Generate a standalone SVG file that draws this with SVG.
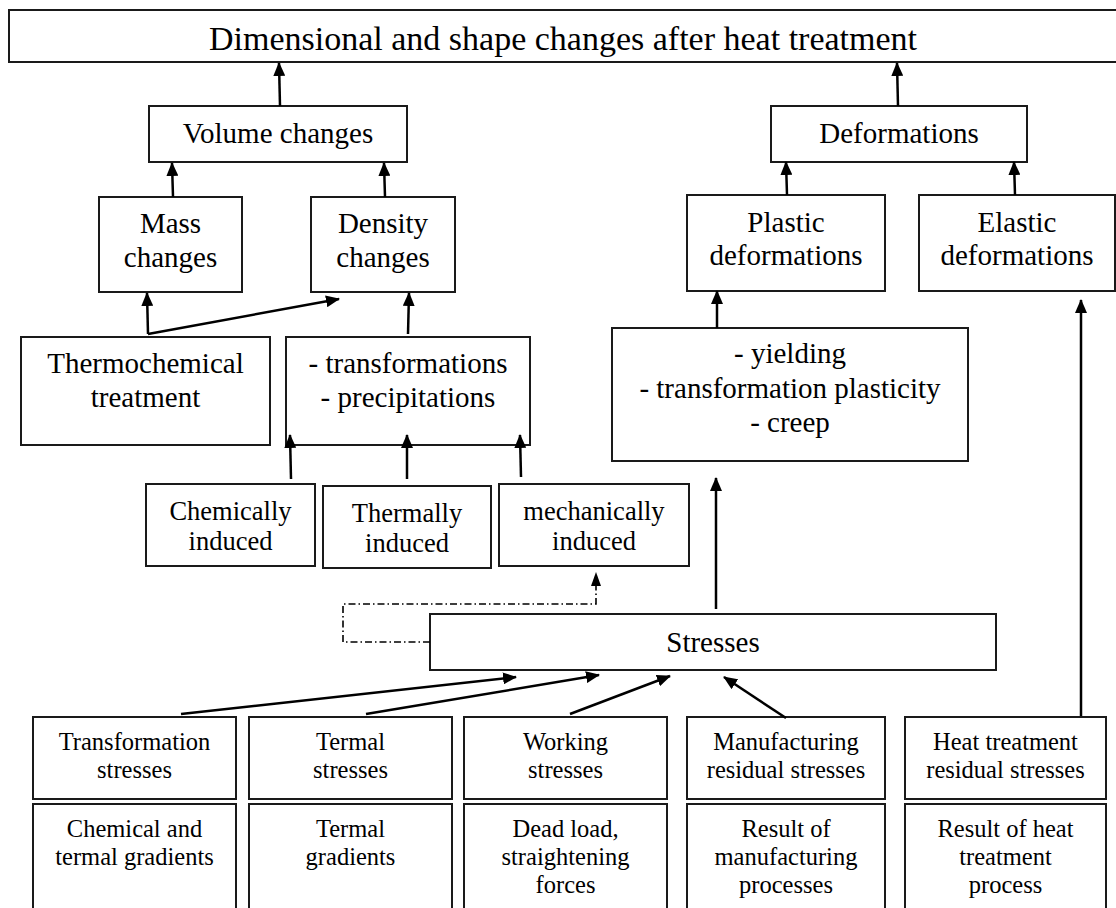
<svg xmlns="http://www.w3.org/2000/svg" width="1116" height="908" viewBox="0 0 1116 908" font-family="'Liberation Serif', 'Times New Roman', Tinos, 'DejaVu Serif', serif">
<style>
.box{fill:#fff;stroke:#1a1a1a;stroke-width:2}
text{font-family:'Liberation Serif','Times New Roman',Tinos,'DejaVu Serif',serif;fill:#000;text-anchor:middle}
.f34{font-size:34px}
.f29{font-size:29px}
.f26{font-size:26.5px}
.f24{font-size:24.5px}
.c{fill:none;stroke:#000;stroke-width:2.5}
.dd{fill:none;stroke:#000;stroke-width:1.6;stroke-dasharray:7 3 1.5 3}
</style>
<defs>
<marker id="ah" markerUnits="userSpaceOnUse" markerWidth="14" markerHeight="12" viewBox="0 0 14 12" refX="13" refY="6" orient="auto">
<path d="M0,0 L14,6 L0,12 Z" fill="#000"/>
</marker>
</defs>
<rect width="1116" height="908" fill="#fff"/>
<g id="title"><rect class="box" x="9" y="10" width="1120" height="52"/><text class="f34" x="563" y="50">Dimensional and shape changes after heat treatment</text></g>
<g id="volume"><rect class="box" x="149" y="106" width="258" height="56"/><text class="f29" x="278" y="143">Volume changes</text></g>
<g id="deformations"><rect class="box" x="771" y="106" width="256" height="56"/><text class="f29" x="899" y="143">Deformations</text></g>
<g id="mass"><rect class="box" x="99" y="197" width="143" height="95"/><text class="f29" x="170.5" y="233">Mass</text><text class="f29" x="170.5" y="267">changes</text></g>
<g id="density"><rect class="box" x="311" y="197" width="144" height="95"/><text class="f29" x="383" y="233">Density</text><text class="f29" x="383" y="267">changes</text></g>
<g id="plastic"><rect class="box" x="687" y="195" width="198" height="96"/><text class="f29" x="786" y="232">Plastic</text><text class="f29" x="786" y="265">deformations</text></g>
<g id="elastic"><rect class="box" x="919" y="195" width="196" height="96"/><text class="f29" x="1017" y="232">Elastic</text><text class="f29" x="1017" y="265">deformations</text></g>
<g id="thermochemical"><rect class="box" x="21" y="337" width="249" height="108"/><text class="f29" x="145.5" y="373">Thermochemical</text><text class="f29" x="145.5" y="407">treatment</text></g>
<g id="transformations"><rect class="box" x="286" y="337" width="244" height="108"/><text class="f29" x="408" y="373">- transformations</text><text class="f29" x="408" y="407">- precipitations</text></g>
<g id="yielding"><rect class="box" x="612" y="328" width="356" height="133"/><text class="f29" x="790" y="363">- yielding</text><text class="f29" x="790" y="398">- transformation plasticity</text><text class="f29" x="790" y="432">- creep</text></g>
<g id="chemically"><rect class="box" x="146" y="484" width="169" height="82"/><text class="f26" x="230.5" y="520">Chemically</text><text class="f26" x="230.5" y="550">induced</text></g>
<g id="thermally"><rect class="box" x="323" y="486" width="168" height="82"/><text class="f26" x="407" y="522">Thermally</text><text class="f26" x="407" y="552">induced</text></g>
<g id="mechanically"><rect class="box" x="499" y="484" width="190" height="82"/><text class="f26" x="594" y="520">mechanically</text><text class="f26" x="594" y="550">induced</text></g>
<g id="stresses"><rect class="box" x="430" y="614" width="566" height="56"/><text class="f29" x="713" y="652">Stresses</text></g>
<g id="s1"><rect class="box" x="33" y="717" width="203" height="82"/><text class="f24" x="134.5" y="750">Transformation</text><text class="f24" x="134.5" y="778">stresses</text></g>
<g id="s2"><rect class="box" x="249" y="717" width="203" height="82"/><text class="f24" x="350.5" y="750">Termal</text><text class="f24" x="350.5" y="778">stresses</text></g>
<g id="s3"><rect class="box" x="464" y="717" width="203" height="82"/><text class="f24" x="565.5" y="750">Working</text><text class="f24" x="565.5" y="778">stresses</text></g>
<g id="s4"><rect class="box" x="687" y="717" width="198" height="82"/><text class="f24" x="786" y="750">Manufacturing</text><text class="f24" x="786" y="778">residual stresses</text></g>
<g id="s5"><rect class="box" x="905" y="717" width="201" height="82"/><text class="f24" x="1005.5" y="750">Heat treatment</text><text class="f24" x="1005.5" y="778">residual stresses</text></g>
<g id="g1"><rect class="box" x="33" y="804" width="203" height="110"/><text class="f24" x="134.5" y="837">Chemical and</text><text class="f24" x="134.5" y="865">termal gradients</text></g>
<g id="g2"><rect class="box" x="249" y="804" width="203" height="110"/><text class="f24" x="350.5" y="837">Termal</text><text class="f24" x="350.5" y="865">gradients</text></g>
<g id="g3"><rect class="box" x="464" y="804" width="203" height="110"/><text class="f24" x="565.5" y="837">Dead load,</text><text class="f24" x="565.5" y="865">straightening</text><text class="f24" x="565.5" y="893">forces</text></g>
<g id="g4"><rect class="box" x="687" y="804" width="198" height="110"/><text class="f24" x="786" y="837">Result of</text><text class="f24" x="786" y="865">manufacturing</text><text class="f24" x="786" y="893">processes</text></g>
<g id="g5"><rect class="box" x="905" y="804" width="201" height="110"/><text class="f24" x="1005.5" y="837">Result of heat</text><text class="f24" x="1005.5" y="865">treatment</text><text class="f24" x="1005.5" y="893">process</text></g>
<g id="connectors">
<line class="c" x1="280" y1="106" x2="279" y2="63" marker-end="url(#ah)"/>
<line class="c" x1="898" y1="106" x2="897" y2="63" marker-end="url(#ah)"/>
<line class="c" x1="173" y1="197" x2="172" y2="163" marker-end="url(#ah)"/>
<line class="c" x1="385" y1="197" x2="384" y2="163" marker-end="url(#ah)"/>
<line class="c" x1="787" y1="195" x2="786" y2="162" marker-end="url(#ah)"/>
<line class="c" x1="1015" y1="195" x2="1014" y2="162" marker-end="url(#ah)"/>
<line class="c" x1="148" y1="334" x2="147" y2="293" marker-end="url(#ah)"/>
<line class="c" x1="148" y1="334" x2="339" y2="299" marker-end="url(#ah)"/>
<line class="c" x1="408" y1="334" x2="409" y2="293" marker-end="url(#ah)"/>
<line class="c" x1="717" y1="328" x2="717" y2="291" marker-end="url(#ah)"/>
<line class="c" x1="291" y1="479" x2="290" y2="435" marker-end="url(#ah)"/>
<line class="c" x1="407" y1="479" x2="407" y2="435" marker-end="url(#ah)"/>
<line class="c" x1="521" y1="477" x2="520" y2="435" marker-end="url(#ah)"/>
<line class="c" x1="716" y1="609" x2="716" y2="478" marker-end="url(#ah)"/>
<line class="c" x1="1081" y1="716" x2="1081" y2="300" marker-end="url(#ah)"/>
<line class="c" x1="181" y1="714" x2="516" y2="677" marker-end="url(#ah)"/>
<line class="c" x1="366" y1="714" x2="599" y2="675" marker-end="url(#ah)"/>
<line class="c" x1="570" y1="714" x2="670" y2="676" marker-end="url(#ah)"/>
<line class="c" x1="786" y1="718" x2="724" y2="677" marker-end="url(#ah)"/>
<polyline class="dd" points="430,642 343,642 343,604 596,604 596,586"/>
<path d="M591,586 L601,586 L596,572 Z" fill="#000"/>
</g>
</svg>
